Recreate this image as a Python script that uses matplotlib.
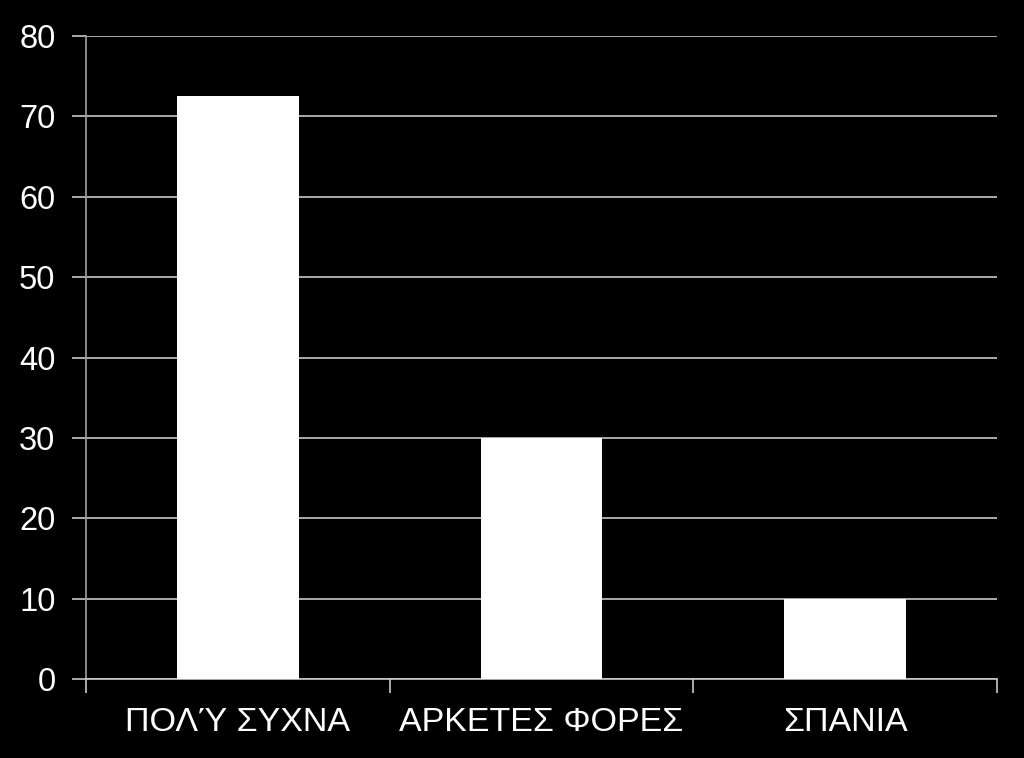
import matplotlib
matplotlib.use("Agg")
import matplotlib.pyplot as plt

categories = ["ΠΟΛΎ ΣΥΧΝΑ", "ΑΡΚΕΤΕΣ ΦΟΡΕΣ", "ΣΠΑΝΙΑ"]
values = [72.5, 30, 10]
yticks = [0, 10, 20, 30, 40, 50, 60, 70, 80]

plt.rcParams['font.family'] = ['Liberation Sans', 'DejaVu Sans']

fig = plt.figure(figsize=(10.24, 7.58), dpi=100, facecolor='black')
ax = fig.add_axes([86/1024, 1-679/758, (997-86)/1024, (679-36)/758])
ax.set_facecolor('black')

x = list(range(len(categories)))
ax.bar(x, values, width=0.4, color='white', zorder=3)

ax.set_xlim(-0.5, len(categories)-0.5)
ax.set_ylim(0, 80)
ax.set_yticks(yticks)
ax.set_yticklabels([str(t) for t in yticks])
ax.yaxis.grid(True, color='#c8c8c8', linewidth=1.2, zorder=0)

ax.set_xticks([i - 0.5 for i in range(len(categories)+1)])
ax.set_xticklabels([])
ax.set_xticks(x, minor=True)
ax.set_xticklabels(categories, minor=True)
ax.tick_params(axis='x', which='minor', length=0, pad=20, labelsize=24.5, colors='white')
ax.tick_params(axis='x', which='major', length=10, width=1.2, color='#c8c8c8')
ax.tick_params(axis='y', length=10, width=1.2, color='#c8c8c8', labelsize=23.5, labelcolor='white', pad=12)

for s in ['top', 'right']:
    ax.spines[s].set_visible(False)
ax.spines['left'].set_color('#a0a0a0')
ax.spines['bottom'].set_color('#c8c8c8')
ax.spines['left'].set_linewidth(1.2)
ax.spines['bottom'].set_linewidth(1.2)

fig.savefig('out.png', dpi=100, facecolor='black')
